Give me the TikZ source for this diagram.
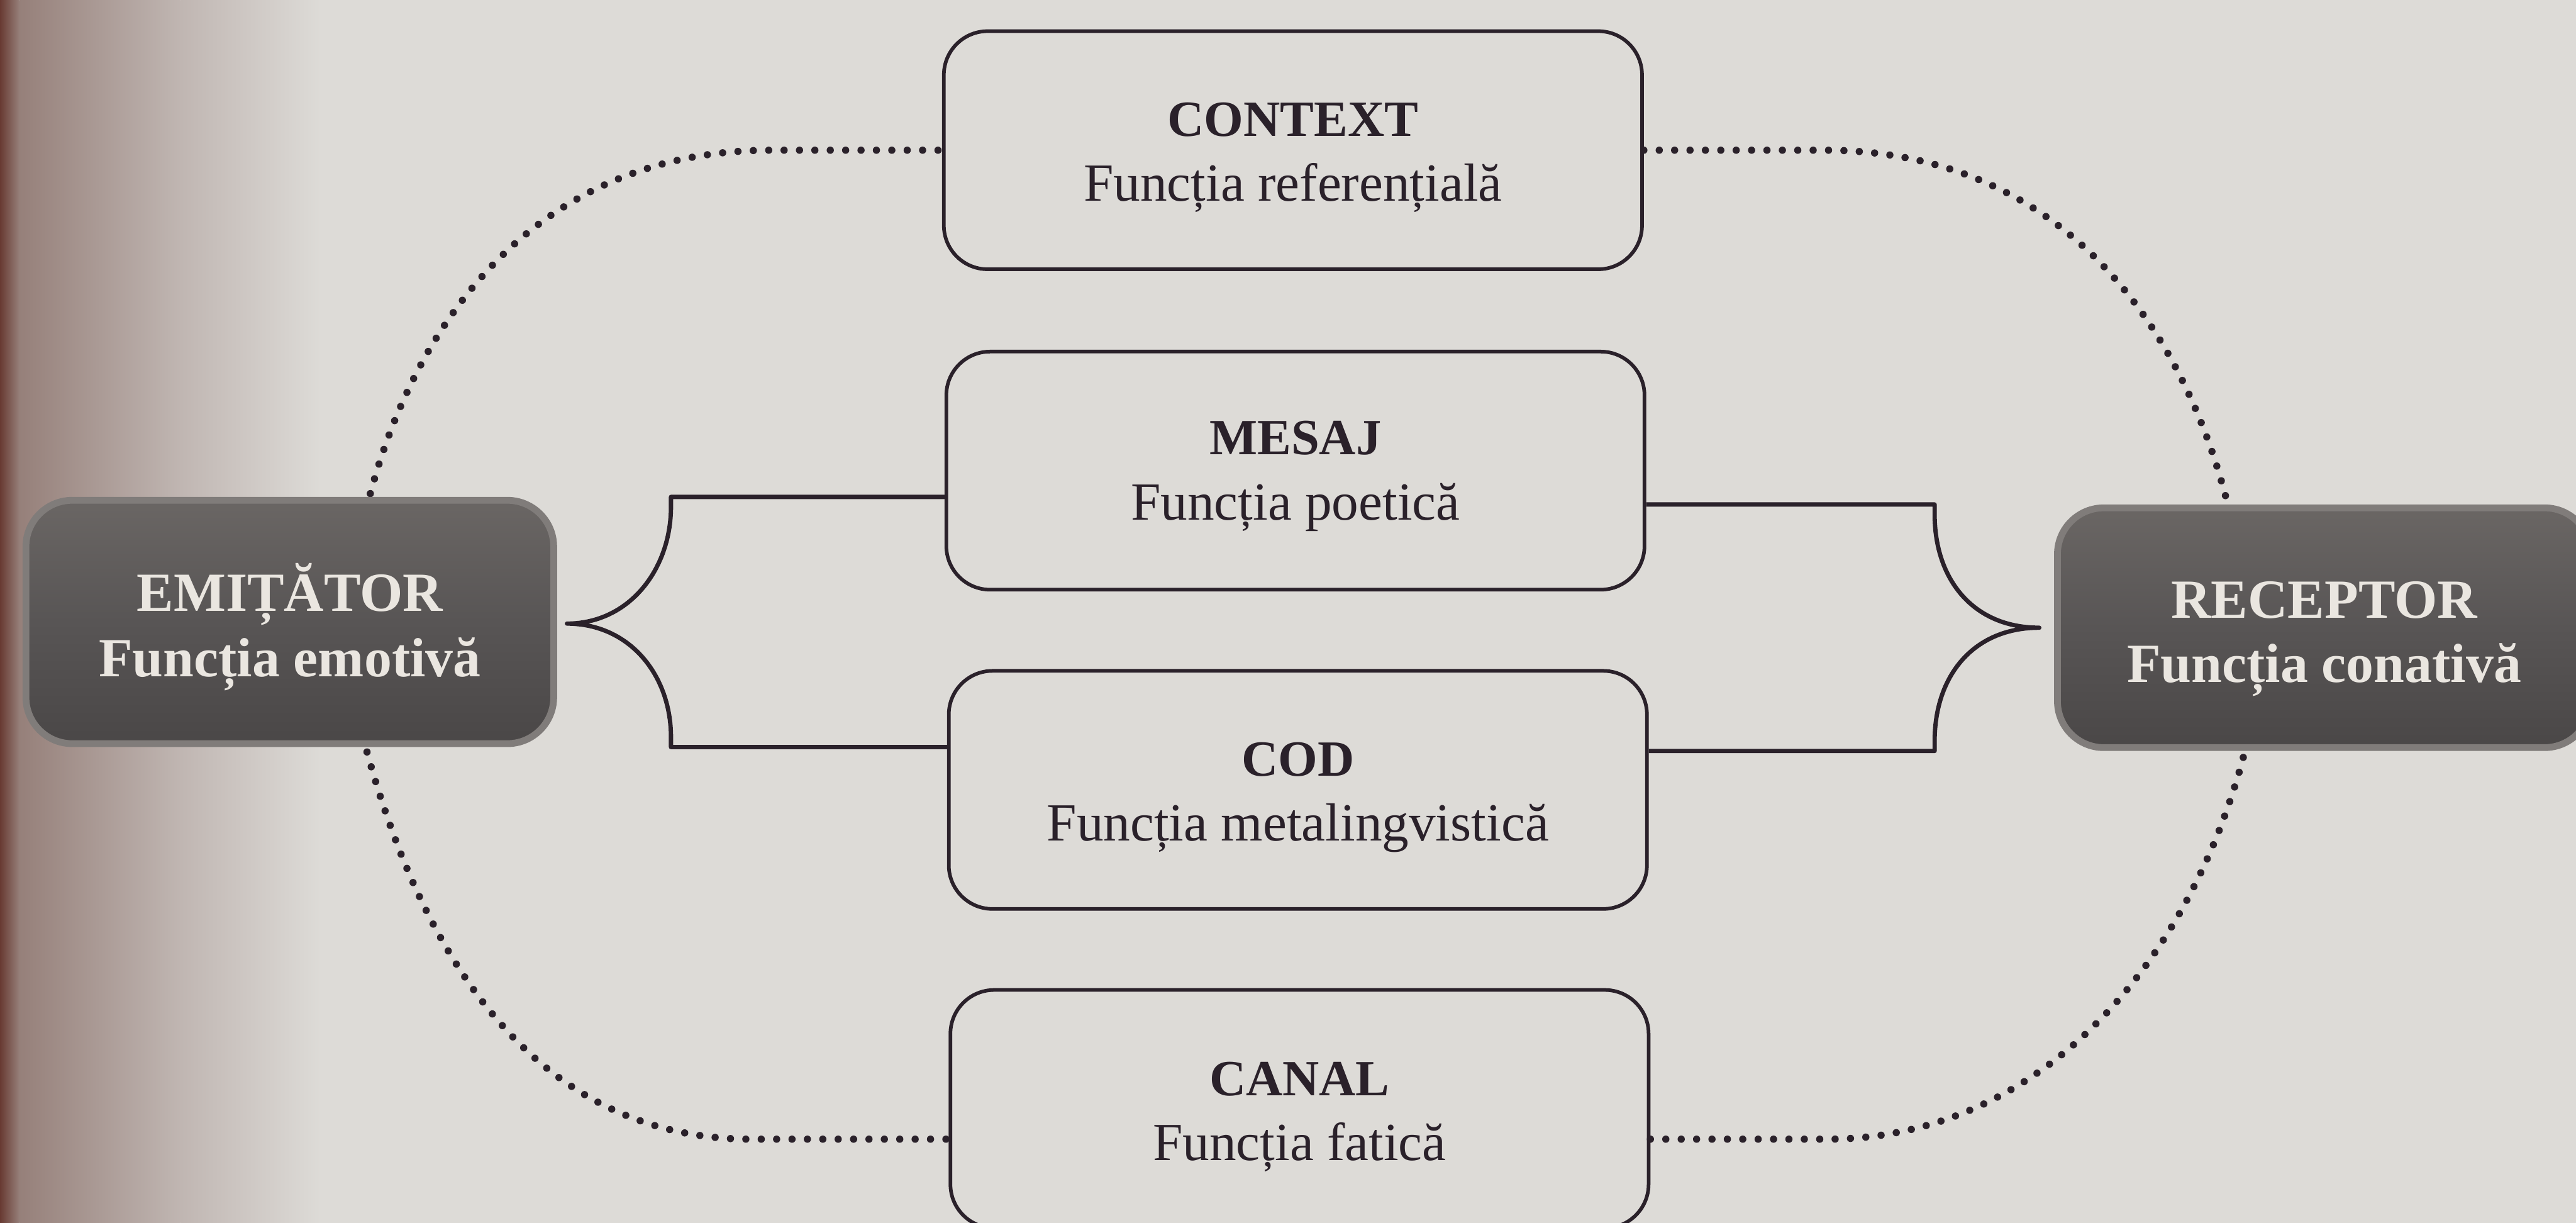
\documentclass[tikz,border=0pt]{standalone}
\usepackage{fontspec}
\setmainfont{Liberation Serif}
\usetikzlibrary{calc}

\definecolor{paper}{RGB}{221,219,215}
\definecolor{gutterdeep}{RGB}{104,58,50}
\definecolor{gutter}{RGB}{150,128,122}
\definecolor{gutterfade}{RGB}{192,182,178}
\definecolor{ink}{RGB}{42,33,42}
\definecolor{slatetop}{RGB}{106,102,100}
\definecolor{slatemid}{RGB}{88,85,85}
\definecolor{slatebot}{RGB}{74,71,71}
\definecolor{slaterim}{RGB}{128,124,122}
\definecolor{slatetext}{RGB}{234,230,224}

\pgfdeclarelayer{paperlayer}
\pgfdeclarelayer{links}
\pgfsetlayers{paperlayer,links,main}

\begin{document}
\begin{tikzpicture}[x=0.012755cm, y=-0.012747cm,
  lightbox/.style={draw=ink, line width=0.8pt, rounded corners=0.34cm,
    minimum width=5.421cm, minimum height=1.848cm, inner sep=0pt},
  darkbox/.style={rounded corners=0.36cm, top color=slatetop, bottom color=slatebot,
    middle color=slatemid, draw=slaterim, line width=1.5pt, inner sep=0pt},
  head/.style={anchor=base, inner sep=0pt, text=ink,
    font=\fontsize{11.2pt}{13pt}\selectfont\bfseries},
  sub/.style={anchor=base, inner sep=0pt, text=ink,
    font=\fontsize{11.85pt}{14pt}\selectfont},
  darktext/.style={anchor=base, inner sep=0pt, text=slatetext,
    font=\fontsize{12.2pt}{14pt}\selectfont\bfseries},
  bracket/.style={draw=ink, line width=0.95pt, line join=round},
  dots/.style={draw=ink, line width=1.6pt, line cap=round, dash pattern=on 0pt off 3.4pt}
]
\useasboundingbox (0,0) rectangle (1568,745);

% page, with the shadow of the binding on the left
\begin{pgfonlayer}{paperlayer}
  \fill[paper] (0,0) rectangle (1568,745);
  \shade[left color=gutterdeep, right color=gutter] (0,0) rectangle (12,745);
  \shade[left color=gutter, right color=gutterfade] (12,0) rectangle (110,745);
  \shade[left color=gutterfade, right color=paper] (110,0) rectangle (195,745);
\end{pgfonlayer}

% sender and receiver
\node[darkbox, minimum width=4.098cm, minimum height=1.889cm] (emit) at (176.4,378.9) {};
\node[darkbox, minimum width=4.142cm, minimum height=1.861cm] (recv) at (1414.7,382.4) {};
\node[darktext] (emitH) at ($(emit.north)+(0,69.6)$) {EMIȚĂTOR};
\node[darktext] (emitS) at ($(emit.north)+(0,109.5)$) {Funcția emotivă};
\node[darktext] (recvH) at ($(recv.north)+(0,69.1)$) {RECEPTOR};
\node[darktext] (recvS) at ($(recv.north)+(0,108.4)$) {Funcția conativă};

% the four factors in the middle column
\node[lightbox] (ctx) at (787,91.5) {};
\node[lightbox] (msg) at (788.5,286.7) {};
\node[lightbox] (code) at (790,481.2) {};
\node[lightbox] (canal) at (791,675.6) {};

\node[head] (ctxH) at ($(ctx.north)+(0,65)$) {CONTEXT};
\node[sub]  (ctxS) at ($(ctx.north)+(0,104.5)$) {Funcția referențială};
\node[head] (msgH) at ($(msg.north)+(0,64)$) {MESAJ};
\node[sub]  (msgS) at ($(msg.north)+(0,103.5)$) {Funcția poetică};
\node[head] (codeH) at ($(code.north)+(0,65)$) {COD};
\node[sub]  (codeS) at ($(code.north)+(0,104.5)$) {Funcția metalingvistică};
\node[head] (canalH) at ($(canal.north)+(0,65.5)$) {CANAL};
\node[sub]  (canalS) at ($(canal.north)+(0,105)$) {Funcția fatică};

\begin{pgfonlayer}{links}
  % bracket joining message and code to the sender
  \path (emit.north -| msg.west) ++(-166.5,0) coordinate (lt);
  \draw[bracket] (emit.north -| msg.west) -- (emit.north -| lt) -- ++(0,6)
    .. controls +(0,38) and +(38,0) .. ($(emit.east)+(6,1)$)
    .. controls +(38,0) and +(0,-38) .. ($(emit.south -| lt)+(0,-6)$)
    -- (emit.south -| lt) -- (emit.south -| code.west);
  % bracket joining message and code to the receiver
  \path (recv.north -| msg.east) ++(175.5,0) coordinate (rt);
  \draw[bracket] (recv.north -| msg.east) -- (recv.north -| rt) -- ++(0,6)
    .. controls +(0,40) and +(-40,0) .. ($(recv.west)+(-9,0)$)
    .. controls +(-40,0) and +(0,-40) .. ($(recv.south -| rt)+(0,-6)$)
    -- (recv.south -| rt) -- (recv.south -| code.east);

  % dotted loop through context and channel
  \draw[dots] ($(emit.north)+(49,-2)$) .. controls +(31,-115) and +(-135,0) ..
    ($(ctx.west)+(-104,0)$) -- (ctx.west);
  \draw[dots] (ctx.east) -- ++(110,0) .. controls +(135,0) and +(-31,-116) ..
    ($(recv.north)+(-60,-5)$);
  \draw[dots] ($(emit.south)+(47,3)$) .. controls +(35,127) and +(-130,0) ..
    ($(canal.north west)+(-120,92)$) -- ($(canal.north west)+(0,92)$);
  \draw[dots] ($(canal.north east)+(0,92)$) -- ++(107,0) .. controls +(130,0) and +(-34,127) ..
    ($(recv.south)+(-49,3)$);
\end{pgfonlayer}
\end{tikzpicture}
\end{document}
